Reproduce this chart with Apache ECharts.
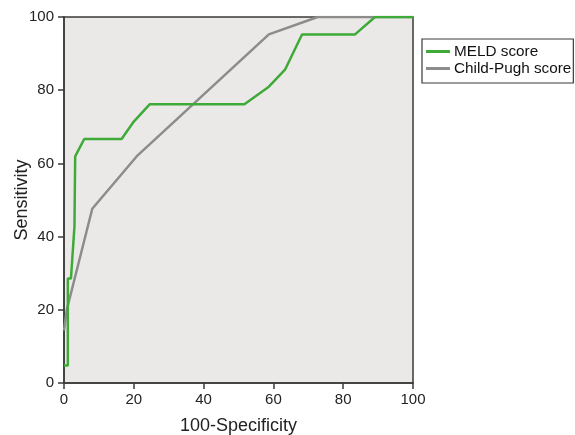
<!DOCTYPE html>
<html>
<head>
<meta charset="utf-8">
<script src="https://cdn.jsdelivr.net/npm/echarts@6/dist/echarts.min.js"></script>
<style>html,body{margin:0;padding:0;background:#fff;}#c{width:575px;height:435px;}</style>
</head>
<body>
<div id="c"></div>
<script>
var seriesNames = ['MELD score', 'Child-Pugh score'];
var meldX = [0, 1.1, 1.1, 2.0, 3.0, 3.2, 5.8, 16.5, 20.0, 24.6, 51.7, 58.7, 63.4, 68.2, 83.4, 89.1, 100];
var meldY = [4.76, 4.76, 28.57, 28.57, 42.86, 61.9, 66.67, 66.67, 71.43, 76.19, 76.19, 80.95, 85.71, 95.24, 95.24, 100, 100];
var childX = [0, 0.8, 8.1, 20.8, 58.7, 72.7, 100];
var childY = [14.29, 20, 47.62, 61.9, 95.24, 100, 100];
var axisTicks = [0, 20, 40, 60, 80, 100];
var xAxisTitle = '100-Specificity';
var yAxisTitle = 'Sensitivity';

function pairs(xs, ys) { return xs.map(function (x, i) { return [x, ys[i]]; }); }

var font = 'Liberation Sans, Arial, Helvetica, sans-serif';
var chart = echarts.init(document.getElementById('c'), null, {renderer: 'canvas'});
function axis(extra) {
  return Object.assign({
    type: 'value', min: axisTicks[0], max: axisTicks[axisTicks.length - 1], interval: 20,
    axisLine: {show: true, lineStyle: {color: '#3a3a3a', width: 1.5}},
    axisTick: {show: true, inside: false, length: 6, lineStyle: {color: '#3a3a3a', width: 1.5}},
    splitLine: {show: false},
    nameLocation: 'middle',
    nameMoveOverlap: false,
    nameTextStyle: {color: '#222', fontSize: 18, fontFamily: font}
  }, extra);
}
chart.setOption({
  animation: false,
  backgroundColor: '#ffffff',
  grid: {left: 64, right: 162, top: 17, bottom: 52, show: true, containLabel: false, outerBoundsMode: 'none',
         backgroundColor: '#ebe9e7', borderColor: '#3a3a3a', borderWidth: 1.5},
  xAxis: axis({name: xAxisTitle, nameGap: 34,
    axisLabel: {color: '#222', fontSize: 15, fontFamily: font, margin: 9}}),
  yAxis: axis({name: yAxisTitle, nameGap: 33,
    axisLabel: {color: '#222', fontSize: 15, fontFamily: font, margin: 10}}),
  legend: {
    orient: 'vertical', left: 422, top: 39,
    backgroundColor: '#ffffff', borderColor: '#3a3a3a', borderWidth: 1.2, borderRadius: 0,
    padding: [4, 2, 6, 4], itemGap: 0, itemWidth: 24, itemHeight: 3, icon: 'rect',
    textStyle: {color: '#111', fontSize: 15.3, lineHeight: 17, fontFamily: font, padding: [0, 0, 0, -1]},
    data: seriesNames
  },
  series: [
    {name: seriesNames[0], type: 'line', data: pairs(meldX, meldY), showSymbol: false, symbol: 'none',
     lineStyle: {color: '#3eaa38', width: 2.5}, itemStyle: {color: '#3eaa38'}, z: 3},
    {name: seriesNames[1], type: 'line', data: pairs(childX, childY), showSymbol: false, symbol: 'none',
     lineStyle: {color: '#8c8c8c', width: 2.5}, itemStyle: {color: '#8c8c8c'}, z: 2}
  ]
});
</script>
</body>
</html>
